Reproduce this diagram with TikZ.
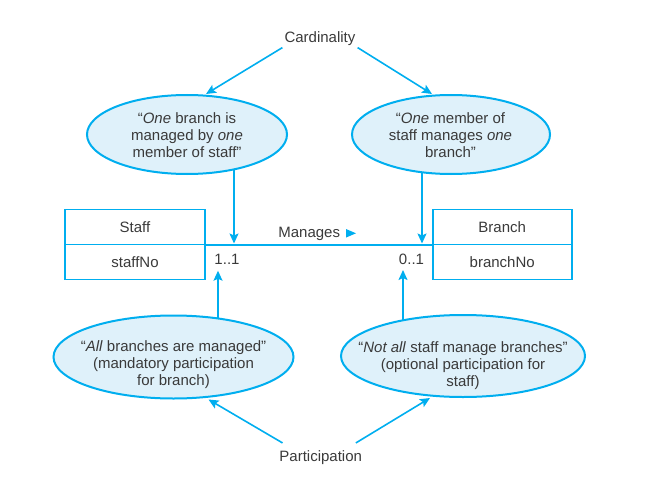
\documentclass[tikz,border=0pt]{standalone}
\usepackage{fontspec}
\setmainfont{Liberation Sans}
\usetikzlibrary{arrows.meta,shapes.geometric}
\definecolor{linec}{RGB}{0,174,239}
\definecolor{fillc}{RGB}{223,241,250}
\definecolor{txtc}{RGB}{58,58,58}
\pgfdeclarelayer{background}
\pgfsetlayers{background,main}
\begin{document}
\begin{tikzpicture}[x=1pt,y=-1pt,
  font=\fontsize{15}{17}\selectfont, text=txtc,
  arr/.style={draw=linec, line width=1.6pt, -{Stealth[length=10pt,width=9pt,inset=2pt]}},
  ell/.style={ellipse, draw=linec, fill=fillc, line width=2pt, inner sep=0pt},
  etext/.style={align=center, inner sep=0pt},
  cls/.style={rectangle, draw=linec, line width=1.6pt, fill=white, minimum width=140pt,
    minimum height=35pt, inner sep=0pt, text height=10.7pt, text depth=0pt},
  lbl/.style={inner sep=2pt}]
\useasboundingbox (0,0) rectangle (650,500);

% labels
\node[lbl, anchor=base] (card) at (320,42.3) {Cardinality};
\node[anchor=base, inner xsep=0pt, inner ysep=7pt] (part) at (320.7,461) {Participation};

% ellipses
\node[ell, minimum width=200pt, minimum height=79pt] (e1) at (187,134.5) {};
\node[etext] (e1t) at (187,135.2) {“\textit{One} branch is\\managed by \textit{one}\\member of staff”};
\node[ell, minimum width=198pt, minimum height=79pt] (e2) at (451,134.5) {};
\node[etext] (e2t) at (450.5,135.2) {“\textit{One} member of\\staff manages \textit{one}\\branch”};
\node[ell, minimum width=240pt, minimum height=83pt] (e3) at (173.5,357) {};
\node[etext] (e3t) at (173.5,364.5) {“\textit{All} branches are managed”\\(mandatory participation\\for branch)};
\node[ell, minimum width=244pt, minimum height=82pt] (e4) at (463,356) {};
\node[etext] (e4t) at (463,366) {“\textit{Not all} staff manage branches”\\(optional participation for\\staff)};

% classes
\node[cls] (staffH) at (135,226.8) {Staff};
\node[cls] (staffA) at (135,261.8) {staffNo};
\node[cls, minimum width=139pt] (branchH) at (502.2,226.8) {Branch};
\node[cls, minimum width=139pt] (branchA) at (502.2,261.8) {branchNo};

% relationship
\draw[draw=linec, line width=1.6pt] (staffH.south east) -- (branchH.south west);
\node[anchor=base, inner sep=0pt] (man) at (309.2,237.7) {Manages};
\fill[linec] (346,229) -- (356,233.3) -- (346,237.6) -- cycle;
\node[anchor=base, inner sep=0pt] (m1) at (227,264) {1..1};
\node[anchor=base, inner sep=0pt] (m2) at (411.5,264) {0..1};

% arrow end points on the relationship
\coordinate (t1) at (234,243.5);
\coordinate (t2) at (422,243.5);
\coordinate (u1) at (218,270.7);
\coordinate (u2) at (403,270);

\begin{pgfonlayer}{background}
\draw[arr] (t1 |- e1.center) -- (t1);
\draw[arr] (t2 |- e2.center) -- (t2);
\draw[arr] (u1 |- e3.center) -- (u1);
\draw[arr] (u2 |- e4.center) -- (u2);
\end{pgfonlayer}

\draw[arr] (card.south west) -- ([xshift=19pt]e1.north);
\draw[arr] (card.south east) -- ([xshift=-19pt]e2.north);
\draw[arr] ([xshift=3.3pt]part.north west) -- ([xshift=35pt]e3.south);
\draw[arr] ([xshift=-6.3pt]part.north east) -- ([xshift=-33pt]e4.south);
\end{tikzpicture}
\end{document}
